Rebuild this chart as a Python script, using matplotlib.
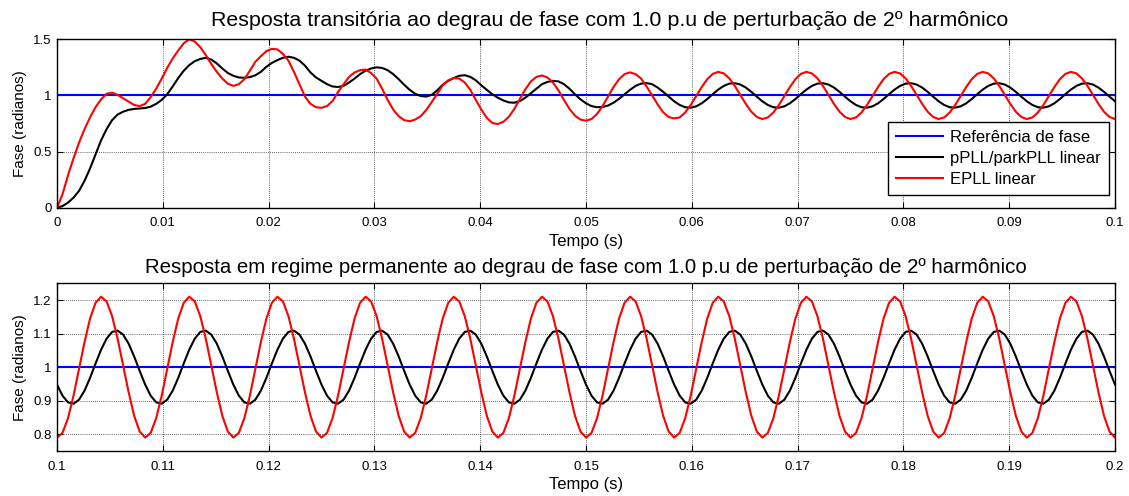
import numpy as np
import matplotlib
matplotlib.use("Agg")
import matplotlib.pyplot as plt

plt.rcParams['font.family'] = ['Liberation Sans', 'DejaVu Sans']

# ---------------- data ----------------
title_top = "Resposta transitória ao degrau de fase com 1.0 p.u de perturbação de 2º harmônico"
title_bot = "Resposta em regime permanente ao degrau de fase com 1.0 p.u de perturbação de 2º harmônico"
xlabel = "Tempo (s)"
ylabel = "Fase (radianos)"
legend_labels = ["Referência de fase", "pPLL/parkPLL linear", "EPLL linear"]

# reference phase (step to 1 rad at t = 0)
ref_t_top = [0.0, 0.1]
ref_top = [1.0, 1.0]
ref_t_bot = [0.1, 0.2]
ref_bot = [1.0, 1.0]

# sample instants: 193 samples over each 0.1 s window
t_top = np.linspace(0.0, 0.1, 193)
t_bot = np.linspace(0.1, 0.2, 193)

# EPLL linear, transient window 0 .. 0.1 s
epll_top = [
    0.00, 0.12, 0.29, 0.44, 0.58, 0.70, 0.805, 0.895, 0.965, 1.015, 1.025, 1.005, 0.975, 0.945, 0.915, 0.905,
    0.925, 0.985, 1.06, 1.15, 1.245, 1.33, 1.40, 1.465, 1.50, 1.48, 1.43, 1.36, 1.28, 1.21, 1.15, 1.105,
    1.085, 1.10, 1.145, 1.22, 1.30, 1.35, 1.395, 1.415, 1.41, 1.37, 1.31, 1.21, 1.10, 0.99, 0.925, 0.895,
    0.89, 0.905, 0.95, 1.03, 1.10, 1.165, 1.205, 1.225, 1.23, 1.20, 1.15, 1.06, 0.96, 0.875, 0.815, 0.78,
    0.77, 0.785, 0.815, 0.87, 0.94, 1.015, 1.09, 1.135, 1.155, 1.15, 1.115, 1.05, 0.96, 0.875, 0.80, 0.755,
    0.745, 0.765, 0.81, 0.88, 0.97, 1.055, 1.125, 1.165, 1.178, 1.16, 1.115, 1.045, 0.96, 0.88, 0.82, 0.785,
    0.775, 0.79, 0.835, 0.905, 0.99, 1.075, 1.145, 1.19, 1.205, 1.19, 1.15, 1.08, 1.00, 0.92, 0.85, 0.808,
    0.795, 0.804, 0.848, 0.915, 0.995, 1.075, 1.145, 1.192, 1.210, 1.196, 1.152, 1.085, 1.005, 0.925, 0.855, 0.808,
    0.790, 0.804, 0.848, 0.915, 0.995, 1.075, 1.145, 1.192, 1.210, 1.196, 1.152, 1.085, 1.005, 0.925, 0.855, 0.808,
    0.790, 0.804, 0.848, 0.915, 0.995, 1.075, 1.145, 1.192, 1.210, 1.196, 1.152, 1.085, 1.005, 0.925, 0.855, 0.808,
    0.790, 0.804, 0.848, 0.915, 0.995, 1.075, 1.145, 1.192, 1.210, 1.196, 1.152, 1.085, 1.005, 0.925, 0.855, 0.808,
    0.790, 0.804, 0.848, 0.915, 0.995, 1.075, 1.145, 1.192, 1.210, 1.196, 1.152, 1.085, 1.005, 0.925, 0.855, 0.808,
    0.790,
]

# pPLL/parkPLL linear, transient window 0 .. 0.1 s
ppll_top = [
    0.00, 0.015, 0.045, 0.09, 0.15, 0.24, 0.35, 0.475, 0.60, 0.70, 0.78, 0.83, 0.855, 0.872, 0.88, 0.884,
    0.888, 0.90, 0.925, 0.96, 1.01, 1.08, 1.155, 1.22, 1.27, 1.305, 1.325, 1.335, 1.32, 1.285, 1.24, 1.20,
    1.175, 1.16, 1.157, 1.163, 1.18, 1.21, 1.255, 1.29, 1.315, 1.335, 1.345, 1.335, 1.31, 1.265, 1.205, 1.16,
    1.13, 1.10, 1.08, 1.075, 1.085, 1.115, 1.15, 1.19, 1.22, 1.24, 1.25, 1.245, 1.225, 1.19, 1.145, 1.095,
    1.05, 1.015, 0.995, 0.99, 1.005, 1.045, 1.095, 1.13, 1.155, 1.175, 1.18, 1.165, 1.135, 1.09, 1.05, 1.01,
    0.98, 0.955, 0.938, 0.935, 0.95, 0.98, 1.02, 1.06, 1.10, 1.12, 1.13, 1.125, 1.10, 1.06, 1.01, 0.965,
    0.93, 0.905, 0.895, 0.897, 0.91, 0.935, 0.97, 1.01, 1.05, 1.085, 1.105, 1.11, 1.10, 1.07, 1.032, 0.99,
    0.948, 0.915, 0.895, 0.891, 0.903, 0.930, 0.968, 1.011, 1.052, 1.085, 1.105, 1.109, 1.097, 1.070, 1.032, 0.989,
    0.948, 0.915, 0.895, 0.891, 0.903, 0.930, 0.968, 1.011, 1.052, 1.085, 1.105, 1.109, 1.097, 1.070, 1.032, 0.989,
    0.948, 0.915, 0.895, 0.891, 0.903, 0.930, 0.968, 1.011, 1.052, 1.085, 1.105, 1.109, 1.097, 1.070, 1.032, 0.989,
    0.948, 0.915, 0.895, 0.891, 0.903, 0.930, 0.968, 1.011, 1.052, 1.085, 1.105, 1.109, 1.097, 1.070, 1.032, 0.989,
    0.948, 0.915, 0.895, 0.891, 0.903, 0.930, 0.968, 1.011, 1.052, 1.085, 1.105, 1.109, 1.097, 1.070, 1.032, 0.989,
    0.948,
]

# EPLL linear, steady-state window 0.1 .. 0.2 s
epll_bot = [
    0.790, 0.804, 0.848, 0.915, 0.995, 1.075, 1.145, 1.192, 1.210, 1.196, 1.152, 1.085, 1.005, 0.925, 0.855, 0.808,
    0.790, 0.804, 0.848, 0.915, 0.995, 1.075, 1.145, 1.192, 1.210, 1.196, 1.152, 1.085, 1.005, 0.925, 0.855, 0.808,
    0.790, 0.804, 0.848, 0.915, 0.995, 1.075, 1.145, 1.192, 1.210, 1.196, 1.152, 1.085, 1.005, 0.925, 0.855, 0.808,
    0.790, 0.804, 0.848, 0.915, 0.995, 1.075, 1.145, 1.192, 1.210, 1.196, 1.152, 1.085, 1.005, 0.925, 0.855, 0.808,
    0.790, 0.804, 0.848, 0.915, 0.995, 1.075, 1.145, 1.192, 1.210, 1.196, 1.152, 1.085, 1.005, 0.925, 0.855, 0.808,
    0.790, 0.804, 0.848, 0.915, 0.995, 1.075, 1.145, 1.192, 1.210, 1.196, 1.152, 1.085, 1.005, 0.925, 0.855, 0.808,
    0.790, 0.804, 0.848, 0.915, 0.995, 1.075, 1.145, 1.192, 1.210, 1.196, 1.152, 1.085, 1.005, 0.925, 0.855, 0.808,
    0.790, 0.804, 0.848, 0.915, 0.995, 1.075, 1.145, 1.192, 1.210, 1.196, 1.152, 1.085, 1.005, 0.925, 0.855, 0.808,
    0.790, 0.804, 0.848, 0.915, 0.995, 1.075, 1.145, 1.192, 1.210, 1.196, 1.152, 1.085, 1.005, 0.925, 0.855, 0.808,
    0.790, 0.804, 0.848, 0.915, 0.995, 1.075, 1.145, 1.192, 1.210, 1.196, 1.152, 1.085, 1.005, 0.925, 0.855, 0.808,
    0.790, 0.804, 0.848, 0.915, 0.995, 1.075, 1.145, 1.192, 1.210, 1.196, 1.152, 1.085, 1.005, 0.925, 0.855, 0.808,
    0.790, 0.804, 0.848, 0.915, 0.995, 1.075, 1.145, 1.192, 1.210, 1.196, 1.152, 1.085, 1.005, 0.925, 0.855, 0.808,
    0.790,
]

# pPLL/parkPLL linear, steady-state window 0.1 .. 0.2 s
ppll_bot = [
    0.948, 0.915, 0.895, 0.891, 0.903, 0.930, 0.968, 1.011, 1.052, 1.085, 1.105, 1.109, 1.097, 1.070, 1.032, 0.989,
    0.948, 0.915, 0.895, 0.891, 0.903, 0.930, 0.968, 1.011, 1.052, 1.085, 1.105, 1.109, 1.097, 1.070, 1.032, 0.989,
    0.948, 0.915, 0.895, 0.891, 0.903, 0.930, 0.968, 1.011, 1.052, 1.085, 1.105, 1.109, 1.097, 1.070, 1.032, 0.989,
    0.948, 0.915, 0.895, 0.891, 0.903, 0.930, 0.968, 1.011, 1.052, 1.085, 1.105, 1.109, 1.097, 1.070, 1.032, 0.989,
    0.948, 0.915, 0.895, 0.891, 0.903, 0.930, 0.968, 1.011, 1.052, 1.085, 1.105, 1.109, 1.097, 1.070, 1.032, 0.989,
    0.948, 0.915, 0.895, 0.891, 0.903, 0.930, 0.968, 1.011, 1.052, 1.085, 1.105, 1.109, 1.097, 1.070, 1.032, 0.989,
    0.948, 0.915, 0.895, 0.891, 0.903, 0.930, 0.968, 1.011, 1.052, 1.085, 1.105, 1.109, 1.097, 1.070, 1.032, 0.989,
    0.948, 0.915, 0.895, 0.891, 0.903, 0.930, 0.968, 1.011, 1.052, 1.085, 1.105, 1.109, 1.097, 1.070, 1.032, 0.989,
    0.948, 0.915, 0.895, 0.891, 0.903, 0.930, 0.968, 1.011, 1.052, 1.085, 1.105, 1.109, 1.097, 1.070, 1.032, 0.989,
    0.948, 0.915, 0.895, 0.891, 0.903, 0.930, 0.968, 1.011, 1.052, 1.085, 1.105, 1.109, 1.097, 1.070, 1.032, 0.989,
    0.948, 0.915, 0.895, 0.891, 0.903, 0.930, 0.968, 1.011, 1.052, 1.085, 1.105, 1.109, 1.097, 1.070, 1.032, 0.989,
    0.948, 0.915, 0.895, 0.891, 0.903, 0.930, 0.968, 1.011, 1.052, 1.085, 1.105, 1.109, 1.097, 1.070, 1.032, 0.989,
    0.948,
]

xticks_top = [0, 0.01, 0.02, 0.03, 0.04, 0.05, 0.06, 0.07, 0.08, 0.09, 0.1]
xticklabels_top = ["0", "0.01", "0.02", "0.03", "0.04", "0.05", "0.06", "0.07", "0.08", "0.09", "0.1"]
yticks_top = [0, 0.5, 1, 1.5]
yticklabels_top = ["0", "0.5", "1", "1.5"]
xticks_bot = [0.1, 0.11, 0.12, 0.13, 0.14, 0.15, 0.16, 0.17, 0.18, 0.19, 0.2]
xticklabels_bot = ["0.1", "0.11", "0.12", "0.13", "0.14", "0.15", "0.16", "0.17", "0.18", "0.19", "0.2"]
yticks_bot = [0.8, 0.9, 1, 1.1, 1.2]
yticklabels_bot = ["0.8", "0.9", "1", "1.1", "1.2"]

# ---------------- drawing ----------------
W, H = 1129, 496
fig = plt.figure(figsize=(W / 100, H / 100), dpi=100)
fig.patch.set_facecolor("white")

ax1 = fig.add_axes([57 / W, 1 - 207.7 / H, (1115 - 57) / W, (207.7 - 39.3) / H])
ax2 = fig.add_axes([57 / W, 1 - 451 / H, (1115 - 57) / W, (451 - 283.3) / H])

LW = 1.5

def style(ax, xt, xtl, yt, ytl, xlim, ylim, title, tsize, tx, tpad):
    ax.set_xlim(*xlim)
    ax.set_ylim(*ylim)
    ax.set_xticks(xt)
    ax.set_xticklabels(xtl)
    ax.set_yticks(yt)
    ax.set_yticklabels(ytl)
    ax.tick_params(direction="in", top=True, right=True, length=4, width=0.8,
                   labelsize=9.5, colors="black", pad=4)
    ax.tick_params(axis="x", pad=7)
    ax.grid(True, linestyle=(0, (1, 1.5)), color="#303030", linewidth=0.6)
    for s in ax.spines.values():
        s.set_linewidth(1.0)
        s.set_color("black")
    ax.set_title(title, fontsize=tsize, pad=tpad, x=tx)
    ax.set_xlabel(xlabel, fontsize=12, labelpad=3)
    ax.set_ylabel(ylabel, fontsize=11, labelpad=4)

ax1.plot(ref_t_top, ref_top, color=(0, 0, 1), lw=LW, label=legend_labels[0])
ax1.plot(t_top, ppll_top, color="black", lw=LW, label=legend_labels[1])
ax1.plot(t_top, epll_top, color=(1, 0, 0), lw=LW, label=legend_labels[2])
style(ax1, xticks_top, xticklabels_top, yticks_top, yticklabels_top, (0, 0.1), (0, 1.5),
      title_top, 15.4, 0.522, 9.5)

leg = ax1.legend(loc="lower right", bbox_to_anchor=(0.994, 0.075), fontsize=12,
                 frameon=True, fancybox=False, framealpha=1, edgecolor="black",
                 handlelength=2.8, handletextpad=0.4, labelspacing=0.35,
                 borderpad=0.5, borderaxespad=0)
leg.get_frame().set_linewidth(1.0)

ax2.plot(ref_t_bot, ref_bot, color=(0, 0, 1), lw=LW)
ax2.plot(t_bot, ppll_bot, color="black", lw=LW)
ax2.plot(t_bot, epll_bot, color=(1, 0, 0), lw=LW)
style(ax2, xticks_bot, xticklabels_bot, yticks_bot, yticklabels_bot, (0.1, 0.2), (0.75, 1.25),
      title_bot, 14.7, 0.5, 7.5)

fig.savefig("out.png", dpi=100, facecolor="white")
